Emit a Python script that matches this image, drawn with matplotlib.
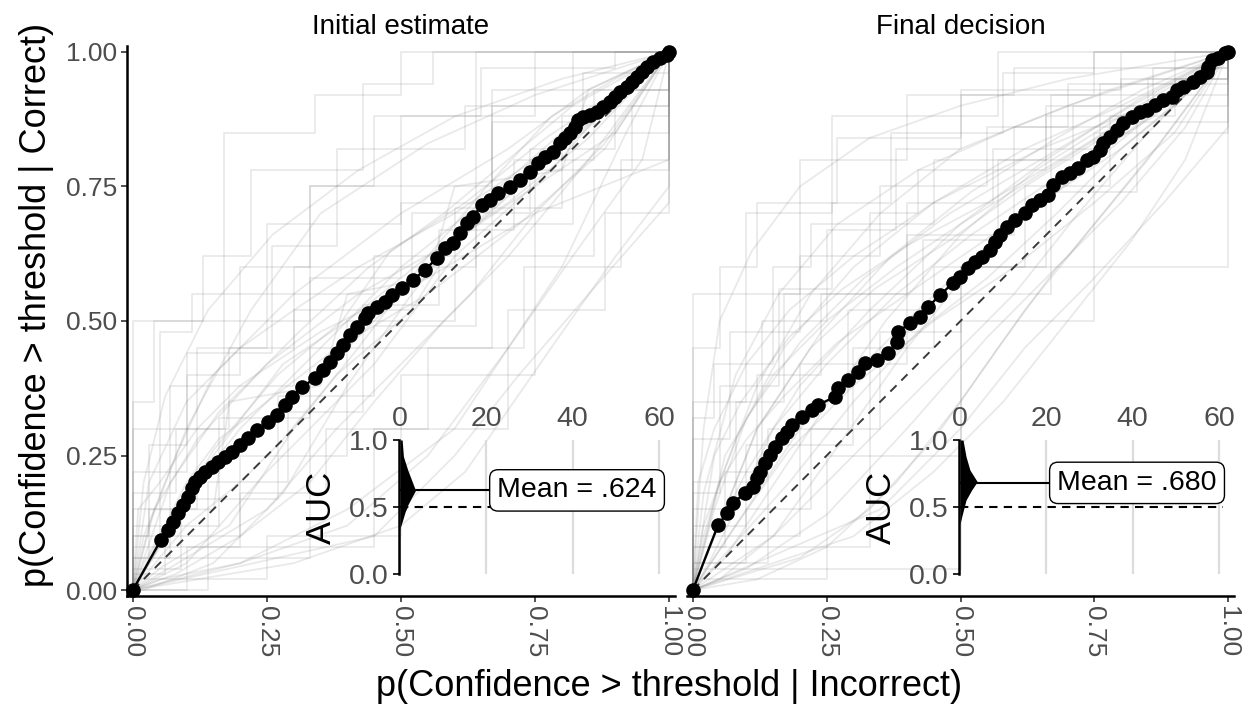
import matplotlib
matplotlib.use('Agg')
import matplotlib.pyplot as plt

plt.rcParams['font.family'] = ['Liberation Sans', 'DejaVu Sans']

# ---------------- data ----------------
panel_titles = ['Initial estimate', 'Final decision']
x_title = 'p(Confidence > threshold | Incorrect)'
y_title = 'p(Confidence > threshold | Correct)'
main_ticks = [0.0, 0.25, 0.5, 0.75, 1.0]
main_tick_labels = ['0.00', '0.25', '0.50', '0.75', '1.00']
inset_x_ticks = [0, 20, 40, 60]
inset_y_ticks = [0.0, 0.5, 1.0]
inset_y_labels = ['0.0', '0.5', '1.0']
mean_auc = [0.624, 0.680]
mean_labels = ['Mean = .624', 'Mean = .680']
chance_auc = 0.5
label_pos = 41

initial_mean_x = [0.0, 0.052, 0.065, 0.075, 0.084, 0.093, 0.103, 0.110, 0.116, 0.125, 0.134,
                  0.147, 0.159, 0.172, 0.185, 0.200, 0.215, 0.231, 0.252, 0.269, 0.284, 0.297,
                  0.315, 0.340, 0.354, 0.367, 0.381, 0.392, 0.405, 0.418, 0.433, 0.438, 0.455,
                  0.470, 0.483, 0.502, 0.522, 0.545, 0.567, 0.582, 0.597, 0.610, 0.623, 0.634,
                  0.651, 0.666, 0.681, 0.703, 0.722, 0.741, 0.756, 0.769, 0.784, 0.797, 0.806,
                  0.815, 0.825, 0.830, 0.840, 0.853, 0.866, 0.877, 0.890, 0.899, 0.909, 0.922,
                  0.931, 0.940, 0.950, 0.959, 0.970, 0.983, 0.996, 1.0]
initial_mean_y = [0.0, 0.093, 0.112, 0.126, 0.143, 0.158, 0.173, 0.190, 0.201, 0.210, 0.219,
                  0.229, 0.238, 0.247, 0.257, 0.270, 0.282, 0.297, 0.312, 0.325, 0.344, 0.359,
                  0.377, 0.394, 0.409, 0.424, 0.440, 0.455, 0.474, 0.489, 0.506, 0.515, 0.526,
                  0.535, 0.548, 0.561, 0.576, 0.595, 0.617, 0.636, 0.645, 0.664, 0.682, 0.693,
                  0.716, 0.725, 0.738, 0.749, 0.762, 0.777, 0.794, 0.805, 0.814, 0.831, 0.840,
                  0.849, 0.861, 0.874, 0.879, 0.883, 0.889, 0.898, 0.907, 0.916, 0.926, 0.935,
                  0.944, 0.953, 0.963, 0.972, 0.981, 0.989, 0.994, 1.0]

final_mean_x = [0.0, 0.047, 0.064, 0.075, 0.097, 0.112, 0.120, 0.125, 0.135, 0.144, 0.153,
                0.166, 0.176, 0.185, 0.204, 0.222, 0.234, 0.265, 0.271, 0.290, 0.308, 0.321,
                0.344, 0.364, 0.381, 0.383, 0.406, 0.424, 0.439, 0.462, 0.486, 0.499, 0.514,
                0.527, 0.540, 0.555, 0.564, 0.574, 0.587, 0.602, 0.621, 0.634, 0.649, 0.664,
                0.673, 0.690, 0.705, 0.720, 0.736, 0.748, 0.761, 0.766, 0.779, 0.792, 0.804,
                0.821, 0.836, 0.849, 0.864, 0.879, 0.895, 0.905, 0.916, 0.935, 0.948, 0.961,
                0.963, 0.970, 0.981, 0.994, 1.0]
final_mean_y = [0.0, 0.121, 0.143, 0.162, 0.180, 0.191, 0.208, 0.219, 0.236, 0.251, 0.266,
                0.283, 0.294, 0.307, 0.322, 0.335, 0.344, 0.359, 0.375, 0.390, 0.405, 0.422,
                0.428, 0.440, 0.461, 0.480, 0.496, 0.507, 0.526, 0.548, 0.571, 0.582, 0.599,
                0.610, 0.619, 0.632, 0.647, 0.660, 0.675, 0.688, 0.701, 0.716, 0.725, 0.734,
                0.753, 0.768, 0.775, 0.784, 0.799, 0.805, 0.818, 0.831, 0.842, 0.855, 0.868,
                0.879, 0.888, 0.892, 0.901, 0.911, 0.916, 0.929, 0.935, 0.944, 0.953, 0.963,
                0.972, 0.985, 0.989, 0.998, 1.0]

# density of participant AUCs (half violin), width in inset x units
initial_density_auc = [0.33, 0.35, 0.40, 0.465, 0.50, 0.515, 0.577, 0.624, 0.70, 0.776, 0.876, 1.0]
initial_density_width = [0.0, 0.1, 0.6, 1.2, 1.7, 1.8, 2.8, 3.6, 2.7, 1.8, 0.8, 0.5]
final_density_auc = [0.37, 0.428, 0.49, 0.552, 0.627, 0.689, 0.776, 0.876, 1.0]
final_density_width = [0.0, 0.4, 0.9, 1.4, 2.7, 4.0, 2.3, 1.4, 0.7]

# individual participant ROC curves (x, y) pairs
initial_rocs = [
    [(0, 0), (0, 0.3), (0.17, 0.3), (0.17, 0.85), (0.34, 0.85), (0.34, 0.92), (0.5, 0.92), (0.5, 1), (1, 1)],
    [(0, 0), (0, 0.06), (0.07, 0.06), (0.07, 0.38), (0.3, 0.38), (0.3, 0.6), (0.64, 0.6), (0.64, 1), (1, 1)],
    [(0, 0), (0.1, 0.05), (0.25, 0.22), (0.45, 0.42), (0.6, 0.62), (0.78, 0.78), (0.9, 0.92), (1, 1)],
    [(0, 0), (0, 0.15), (0.12, 0.15), (0.12, 0.45), (0.25, 0.45), (0.25, 0.68), (0.5, 0.68), (0.5, 0.88), (0.75, 0.88), (0.75, 1), (1, 1)],
    [(0, 0), (0.05, 0.02), (0.2, 0.05), (0.4, 0.15), (0.6, 0.3), (0.8, 0.6), (0.92, 0.85), (1, 1)],
    [(0, 0), (0.02, 0.1), (0.08, 0.25), (0.15, 0.4), (0.3, 0.55), (0.5, 0.7), (0.7, 0.82), (0.85, 0.93), (1, 1)],
    [(0, 0), (0, 0.08), (0.2, 0.08), (0.2, 0.25), (0.4, 0.25), (0.4, 0.5), (0.6, 0.5), (0.6, 0.71), (0.8, 0.71), (0.8, 0.88), (1, 0.88), (1, 1)],
    [(0, 0), (0.03, 0.12), (0.1, 0.3), (0.22, 0.52), (0.35, 0.7), (0.55, 0.83), (0.75, 0.92), (1, 1)],
    [(0, 0), (0.14, 0), (0.14, 0.2), (0.29, 0.2), (0.29, 0.33), (0.43, 0.33), (0.43, 0.53), (0.57, 0.53), (0.57, 0.67), (0.71, 0.67), (0.71, 0.8), (0.86, 0.8), (0.86, 0.93), (1, 0.93), (1, 1)],
    [(0, 0), (0.3, 0.05), (0.5, 0.12), (0.62, 0.22), (0.78, 0.45), (0.9, 0.62), (1, 0.75), (1, 1)],
    [(0, 0), (0, 0.02), (0.25, 0.02), (0.25, 0.1), (0.5, 0.1), (0.5, 0.4), (0.75, 0.4), (0.75, 0.78), (1, 0.78), (1, 1)],
    [(0, 0), (0.05, 0.08), (0.12, 0.2), (0.2, 0.3), (0.35, 0.45), (0.5, 0.6), (0.65, 0.72), (0.8, 0.85), (0.93, 0.95), (1, 1)],
    [(0, 0), (0, 0.22), (0.1, 0.22), (0.1, 0.4), (0.2, 0.4), (0.2, 0.6), (0.33, 0.6), (0.33, 0.75), (0.45, 0.75), (0.45, 0.88), (0.65, 0.88), (0.65, 0.97), (0.9, 0.97), (0.9, 1), (1, 1)],
    [(0, 0), (0.08, 0.03), (0.2, 0.1), (0.33, 0.2), (0.45, 0.35), (0.58, 0.5), (0.7, 0.62), (0.85, 0.8), (1, 1)],
    [(0, 0), (0.03, 0.05), (0.03, 0.15), (0.15, 0.15), (0.18, 0.35), (0.35, 0.38), (0.4, 0.55), (0.55, 0.58), (0.6, 0.75), (0.8, 0.78), (0.85, 0.93), (1, 1)],
    [(0, 0), (0, 0.1), (0.05, 0.1), (0.05, 0.48), (0.11, 0.48), (0.11, 0.55), (0.45, 0.55), (0.45, 0.62), (0.86, 0.62), (0.86, 0.78), (0.93, 0.78), (0.93, 0.9), (1, 0.9), (1, 1)],
    [(0, 0), (0.02, 0.0), (0.15, 0.05), (0.28, 0.18), (0.4, 0.38), (0.52, 0.55), (0.64, 0.7), (0.76, 0.8), (0.88, 0.9), (1, 1)],
    [(0, 0), (0.1, 0.12), (0.2, 0.2), (0.28, 0.28), (0.38, 0.4), (0.52, 0.52), (0.6, 0.65), (0.72, 0.75), (0.85, 0.86), (1, 1)],
    [(0, 0), (0, 0.06), (0.33, 0.06), (0.33, 0.45), (0.67, 0.45), (0.67, 0.9), (1, 0.9), (1, 1)],
    [(0, 0), (0.04, 0.15), (0.12, 0.28), (0.25, 0.42), (0.42, 0.55), (0.6, 0.65), (0.75, 0.75), (0.9, 0.85), (1, 1)],
    [(0, 0), (0.2, 0.05), (0.4, 0.12), (0.55, 0.25), (0.7, 0.45), (0.82, 0.62), (0.95, 0.8), (1, 1)],
    [(0, 0), (0, 0.12), (0.16, 0.12), (0.16, 0.32), (0.33, 0.32), (0.33, 0.58), (0.5, 0.58), (0.5, 0.72), (0.67, 0.72), (0.67, 0.87), (0.84, 0.87), (0.84, 0.96), (1, 0.96), (1, 1)],
    [(0, 0), (0.06, 0.1), (0.15, 0.26), (0.27, 0.4), (0.39, 0.5), (0.48, 0.63), (0.62, 0.72), (0.77, 0.84), (0.89, 0.92), (1, 1)],
    [(0, 0), (0.02, 0.2), (0.06, 0.36), (0.14, 0.52), (0.26, 0.66), (0.42, 0.78), (0.6, 0.88), (0.8, 0.95), (1, 1)],
    [(0, 0), (0.1, 0), (0.1, 0.08), (0.45, 0.08), (0.45, 0.3), (0.7, 0.3), (0.7, 0.52), (0.88, 0.52), (0.88, 0.7), (1, 0.7), (1, 1)],
    [(0, 0), (0.05, 0.04), (0.18, 0.12), (0.3, 0.3), (0.42, 0.45), (0.55, 0.62), (0.66, 0.75), (0.78, 0.88), (0.9, 0.95), (1, 1)],
    [(0, 0), (0, 0.04), (0.09, 0.04), (0.09, 0.17), (0.27, 0.17), (0.27, 0.36), (0.45, 0.36), (0.45, 0.49), (0.64, 0.49), (0.64, 0.68), (0.82, 0.68), (0.82, 0.85), (1, 0.85), (1, 1)],
    [(0, 0), (0.07, 0.2), (0.16, 0.33), (0.31, 0.48), (0.44, 0.6), (0.58, 0.7), (0.7, 0.8), (0.82, 0.9), (1, 1)],
    [(0, 0), (0.25, 0.15), (0.38, 0.3), (0.5, 0.42), (0.63, 0.55), (0.75, 0.7), (0.88, 0.83), (1, 1)],
    [(0, 0), (0, 0.35), (0.04, 0.35), (0.04, 0.5), (0.13, 0.5), (0.13, 0.62), (0.22, 0.62), (0.22, 0.78), (0.43, 0.78), (0.43, 0.94), (0.56, 0.94), (0.56, 1), (1, 1)],
    [(0, 0), (0.01, 0.15), (0.05, 0.2), (0.12, 0.3), (0.2, 0.38), (0.35, 0.48), (0.55, 0.58), (0.75, 0.7), (1, 0.8), (1, 1)],
    [(0, 0), (0, 0.5), (0.33, 0.5), (0.33, 0.75), (0.67, 0.75), (0.67, 0.93), (1, 0.93), (1, 1)],
    [(0, 0), (0.04, 0.08), (0.1, 0.18), (0.18, 0.25), (0.3, 0.35), (0.45, 0.5), (0.62, 0.66), (0.8, 0.82), (1, 1)],
    [(0, 0), (0, 0.03), (0.06, 0.03), (0.06, 0.1), (0.2, 0.1), (0.2, 0.18), (0.36, 0.18), (0.36, 0.3), (0.55, 0.3), (0.55, 0.45), (0.73, 0.45), (0.73, 0.6), (0.91, 0.6), (0.91, 0.8), (1, 0.8), (1, 1)],
    [(0, 0), (0.15, 0.25), (0.28, 0.42), (0.4, 0.5), (0.55, 0.62), (0.7, 0.72), (0.85, 0.84), (1, 1)],
    [(0, 0), (0.02, 0.05), (0.06, 0.12), (0.1, 0.2), (0.16, 0.28), (0.25, 0.35), (0.38, 0.45), (0.55, 0.55), (0.72, 0.68), (0.88, 0.82), (1, 1)],
    [(0, 0), (0, 0.18), (0.08, 0.18), (0.08, 0.3), (0.18, 0.3), (0.18, 0.45), (0.3, 0.45), (0.3, 0.52), (0.52, 0.52), (0.52, 0.7), (0.74, 0.7), (0.74, 0.82), (0.9, 0.82), (0.9, 0.93), (1, 0.93), (1, 1)],
    [(0, 0), (0.45, 0.1), (0.6, 0.25), (0.72, 0.4), (0.85, 0.55), (1, 0.72), (1, 1)],
    [(0, 0), (0.03, 0.2), (0.1, 0.35), (0.2, 0.45), (0.3, 0.52), (0.42, 0.6), (0.6, 0.7), (0.78, 0.82), (0.9, 0.9), (1, 1)],
    [(0, 0), (0, 0.1), (0.03, 0.1), (0.03, 0.27), (0.1, 0.27), (0.1, 0.44), (0.26, 0.44), (0.26, 0.64), (0.38, 0.64), (0.38, 0.82), (0.62, 0.82), (0.62, 0.9), (0.82, 0.9), (0.82, 1), (1, 1)],
]

final_rocs = [
    [(0, 0), (0, 0.35), (0.1, 0.35), (0.1, 0.7), (0.26, 0.7), (0.26, 0.88), (0.57, 0.88), (0.57, 1), (1, 1)],
    [(0, 0), (0.05, 0.2), (0.12, 0.38), (0.22, 0.55), (0.35, 0.7), (0.5, 0.82), (0.7, 0.9), (0.88, 0.96), (1, 1)],
    [(0, 0), (0, 0.1), (0.2, 0.1), (0.2, 0.42), (0.4, 0.42), (0.4, 0.66), (0.6, 0.66), (0.6, 0.86), (0.8, 0.86), (0.8, 0.95), (1, 0.95), (1, 1)],
    [(0, 0), (0.02, 0.12), (0.08, 0.28), (0.17, 0.45), (0.3, 0.6), (0.45, 0.72), (0.62, 0.82), (0.8, 0.9), (1, 1)],
    [(0, 0), (0.1, 0.04), (0.25, 0.14), (0.4, 0.3), (0.55, 0.47), (0.7, 0.62), (0.85, 0.8), (1, 1)],
    [(0, 0), (0, 0.2), (0.13, 0.2), (0.13, 0.5), (0.25, 0.5), (0.25, 0.67), (0.38, 0.67), (0.38, 0.82), (0.5, 0.82), (0.5, 0.92), (0.75, 0.92), (0.75, 1), (1, 1)],
    [(0, 0), (0.04, 0.15), (0.1, 0.32), (0.2, 0.46), (0.32, 0.58), (0.48, 0.7), (0.65, 0.8), (0.82, 0.9), (1, 1)],
    [(0, 0), (0, 0.05), (0.14, 0.05), (0.14, 0.3), (0.29, 0.3), (0.29, 0.52), (0.43, 0.52), (0.43, 0.65), (0.57, 0.65), (0.57, 0.8), (0.71, 0.8), (0.71, 0.9), (0.86, 0.9), (0.86, 0.97), (1, 0.97), (1, 1)],
    [(0, 0), (0.15, 0.1), (0.3, 0.25), (0.45, 0.4), (0.6, 0.55), (0.72, 0.7), (0.85, 0.85), (1, 1)],
    [(0, 0), (0, 0.45), (0.05, 0.45), (0.05, 0.6), (0.12, 0.6), (0.12, 0.72), (0.27, 0.72), (0.27, 0.84), (0.5, 0.84), (0.5, 0.93), (0.8, 0.93), (0.8, 1), (1, 1)],
    [(0, 0), (0.03, 0.08), (0.1, 0.22), (0.2, 0.38), (0.33, 0.52), (0.5, 0.68), (0.66, 0.8), (0.83, 0.91), (1, 1)],
    [(0, 0), (0, 0.02), (0.25, 0.02), (0.25, 0.25), (0.5, 0.25), (0.5, 0.5), (0.75, 0.5), (0.75, 0.85), (1, 0.85), (1, 1)],
    [(0, 0), (0.06, 0.25), (0.15, 0.4), (0.25, 0.5), (0.38, 0.6), (0.5, 0.68), (0.66, 0.78), (0.82, 0.88), (1, 1)],
    [(0, 0), (0.2, 0.06), (0.33, 0.15), (0.45, 0.28), (0.57, 0.45), (0.68, 0.6), (0.8, 0.72), (0.92, 0.86), (1, 1)],
    [(0, 0), (0, 0.15), (0.08, 0.15), (0.08, 0.35), (0.17, 0.35), (0.17, 0.55), (0.33, 0.55), (0.33, 0.7), (0.42, 0.7), (0.42, 0.78), (0.66, 0.78), (0.66, 0.9), (1, 0.9), (1, 1)],
    [(0, 0), (0.02, 0.18), (0.08, 0.4), (0.16, 0.55), (0.27, 0.68), (0.42, 0.78), (0.6, 0.86), (0.78, 0.93), (1, 1)],
    [(0, 0), (0.1, 0.15), (0.2, 0.3), (0.3, 0.4), (0.42, 0.52), (0.55, 0.64), (0.68, 0.74), (0.83, 0.86), (1, 1)],
    [(0, 0), (0, 0.08), (0.33, 0.08), (0.33, 0.55), (0.67, 0.55), (0.67, 0.92), (1, 0.92), (1, 1)],
    [(0, 0), (0.05, 0.02), (0.15, 0.1), (0.28, 0.28), (0.4, 0.45), (0.52, 0.6), (0.65, 0.72), (0.8, 0.82), (0.92, 0.92), (1, 1)],
    [(0, 0), (0.3, 0.1), (0.45, 0.22), (0.58, 0.35), (0.7, 0.5), (0.82, 0.65), (0.92, 0.8), (1, 1)],
    [(0, 0), (0, 0.28), (0.07, 0.28), (0.07, 0.48), (0.2, 0.48), (0.2, 0.62), (0.35, 0.62), (0.35, 0.75), (0.55, 0.75), (0.55, 0.86), (0.7, 0.86), (0.7, 0.94), (0.9, 0.94), (0.9, 1), (1, 1)],
    [(0, 0), (0.04, 0.1), (0.12, 0.3), (0.24, 0.48), (0.37, 0.62), (0.52, 0.74), (0.68, 0.84), (0.84, 0.93), (1, 1)],
    [(0, 0), (0.12, 0.02), (0.25, 0.08), (0.38, 0.2), (0.5, 0.35), (0.62, 0.52), (0.75, 0.68), (0.88, 0.84), (1, 1)],
    [(0, 0), (0, 0.12), (0.1, 0.12), (0.1, 0.27), (0.3, 0.27), (0.3, 0.45), (0.45, 0.45), (0.45, 0.6), (0.62, 0.6), (0.62, 0.75), (0.78, 0.75), (0.78, 0.88), (0.9, 0.88), (0.9, 0.95), (1, 0.95), (1, 1)],
    [(0, 0), (0.08, 0.12), (0.18, 0.26), (0.3, 0.38), (0.45, 0.5), (0.6, 0.6), (0.75, 0.72), (0.9, 0.85), (1, 1)],
    [(0, 0), (0.02, 0.3), (0.05, 0.5), (0.11, 0.63), (0.2, 0.75), (0.33, 0.84), (0.5, 0.9), (0.7, 0.95), (1, 1)],
    [(0, 0), (0, 0.04), (0.5, 0.04), (0.5, 0.6), (1, 0.6), (1, 1)],
    [(0, 0), (0.06, 0.06), (0.14, 0.18), (0.24, 0.33), (0.36, 0.5), (0.5, 0.66), (0.64, 0.78), (0.8, 0.88), (1, 1)],
    [(0, 0), (0.18, 0.2), (0.3, 0.35), (0.42, 0.48), (0.55, 0.58), (0.68, 0.7), (0.8, 0.82), (0.9, 0.9), (1, 1)],
    [(0, 0), (0, 0.18), (0.05, 0.18), (0.05, 0.38), (0.16, 0.38), (0.16, 0.56), (0.26, 0.56), (0.26, 0.72), (0.37, 0.72), (0.37, 0.85), (0.58, 0.85), (0.58, 0.96), (0.75, 0.96), (0.75, 1), (1, 1)],
    [(0, 0), (0.01, 0.2), (0.04, 0.3), (0.1, 0.42), (0.18, 0.52), (0.3, 0.62), (0.45, 0.72), (0.65, 0.82), (0.85, 0.9), (1, 1)],
    [(0, 0), (0, 0.55), (0.2, 0.55), (0.2, 0.8), (0.4, 0.8), (0.4, 0.92), (0.6, 0.92), (0.6, 0.97), (1, 0.97), (1, 1)],
    [(0, 0), (0.03, 0.05), (0.08, 0.15), (0.15, 0.3), (0.25, 0.42), (0.38, 0.55), (0.52, 0.66), (0.7, 0.78), (0.86, 0.88), (1, 1)],
    [(0, 0), (0, 0.05), (0.1, 0.05), (0.1, 0.15), (0.22, 0.15), (0.22, 0.3), (0.35, 0.3), (0.35, 0.48), (0.5, 0.48), (0.5, 0.6), (0.66, 0.6), (0.66, 0.74), (0.83, 0.74), (0.83, 0.87), (1, 0.87), (1, 1)],
    [(0, 0), (0.12, 0.3), (0.22, 0.45), (0.34, 0.56), (0.48, 0.65), (0.62, 0.75), (0.78, 0.85), (1, 1)],
    [(0, 0), (0.02, 0.1), (0.05, 0.2), (0.1, 0.28), (0.17, 0.36), (0.27, 0.46), (0.4, 0.55), (0.56, 0.66), (0.74, 0.8), (0.88, 0.9), (1, 1)],
    [(0, 0), (0, 0.32), (0.04, 0.32), (0.04, 0.42), (0.15, 0.42), (0.15, 0.6), (0.22, 0.6), (0.22, 0.68), (0.45, 0.68), (0.45, 0.8), (0.66, 0.8), (0.66, 0.88), (0.85, 0.88), (0.85, 0.95), (1, 0.95), (1, 1)],
    [(0, 0), (0.35, 0.15), (0.5, 0.3), (0.62, 0.45), (0.75, 0.58), (0.88, 0.72), (1, 0.86), (1, 1)],
    [(0, 0), (0.04, 0.25), (0.09, 0.35), (0.18, 0.47), (0.28, 0.56), (0.4, 0.64), (0.55, 0.72), (0.72, 0.82), (0.88, 0.92), (1, 1)],
    [(0, 0), (0, 0.08), (0.06, 0.08), (0.06, 0.22), (0.12, 0.22), (0.12, 0.4), (0.24, 0.4), (0.24, 0.55), (0.4, 0.55), (0.4, 0.72), (0.56, 0.72), (0.56, 0.82), (0.76, 0.82), (0.76, 0.94), (1, 0.94), (1, 1)],
]

# ---------------- layout ----------------
W, H = 1254, 709
fig = plt.figure(figsize=(W / 100, H / 100), dpi=100)

def px_rect(left, top, right, bottom):
    return [left / W, 1 - bottom / H, (right - left) / W, (bottom - top) / H]

main_rects = [px_rect(127, 46, 675, 596), px_rect(687, 46, 1234, 596)]
inset_rects = [px_rect(398.7, 440, 667.7, 574), px_rect(958.7, 440, 1227.7, 574)]

panels = [
    (initial_rocs, initial_mean_x, initial_mean_y, initial_density_auc, initial_density_width),
    (final_rocs, final_mean_x, final_mean_y, final_density_auc, final_density_width),
]

TICK_COLOR = '#4d4d4d'
MAIN_TICK_FS = 19
INSET_FS = 20.5
for i, (rocs, mx, my, dens_auc, dens_w) in enumerate(panels):
    ax = fig.add_axes(main_rects[i])
    ax.set_xlim(-0.011, 1.011)
    ax.set_ylim(-0.011, 1.011)
    for roc in rocs:
        xs = [p[0] for p in roc]
        ys = [p[1] for p in roc]
        ax.plot(xs, ys, color='#808080', alpha=0.17, lw=1.3, zorder=1, clip_on=False)
    ax.plot([0, 1], [0, 1], color='#3a3a3a', ls='--', dashes=(4.5, 3.5), lw=1.4, zorder=2)
    ax.plot(mx, my, color='black', lw=1.7, marker='o', ms=9.5, zorder=3, clip_on=False)

    for s in ['top', 'right']:
        ax.spines[s].set_visible(False)
    ax.spines['bottom'].set_linewidth(1.8)
    ax.spines['left'].set_linewidth(1.8)
    ax.set_xticks(main_ticks)
    ax.set_xticklabels(main_tick_labels, rotation=270, va='top', ha='center')
    ax.tick_params(axis='x', length=4, width=1.2, color='#333333', labelsize=MAIN_TICK_FS,
                   labelcolor=TICK_COLOR, pad=3)
    if i == 0:
        ax.set_yticks(main_ticks)
        ax.set_yticklabels(main_tick_labels)
        ax.tick_params(axis='y', length=4, width=1.2, color='#333333', labelsize=MAIN_TICK_FS,
                       labelcolor=TICK_COLOR, pad=3)
    else:
        ax.spines['left'].set_visible(False)
        ax.set_yticks([])
    ax.patch.set_visible(False)
    ax.set_title(panel_titles[i], fontsize=20, pad=9)

    # inset: AUC distribution
    ai = fig.add_axes(inset_rects[i])
    ai.patch.set_visible(False)
    ai.set_xlim(-0.3, 62)
    ai.set_ylim(0, 1)
    for s in ['top', 'right', 'bottom']:
        ai.spines[s].set_visible(False)
    ai.spines['left'].set_linewidth(1.8)
    ai.xaxis.tick_top()
    ai.set_xticks(inset_x_ticks)
    ai.tick_params(axis='x', length=0, labelsize=INSET_FS, labelcolor=TICK_COLOR, pad=6)
    ai.set_yticks(inset_y_ticks)
    ai.set_yticklabels(inset_y_labels)
    ai.tick_params(axis='y', length=4, width=1.2, labelsize=INSET_FS, labelcolor=TICK_COLOR, pad=3)
    ai.grid(axis='x', color='#dcdcdc', lw=1.6)
    ai.set_axisbelow(True)
    ai.set_ylabel('AUC', fontsize=25, labelpad=8)
    ai.fill_betweenx(dens_auc, 0, dens_w, color='black', lw=0, zorder=3)
    ai.plot([0, 61], [chance_auc, chance_auc], color='black', ls='--', dashes=(4, 3), lw=1.5, zorder=2)
    ai.plot([0, label_pos], [mean_auc[i], mean_auc[i]], color='black', lw=1.5, zorder=2)
    ai.text(label_pos, mean_auc[i], mean_labels[i], fontsize=INSET_FS, ha='center', va='center',
            zorder=5, bbox=dict(boxstyle='round,pad=0.27,rounding_size=0.3', fc='white',
                                ec='black', lw=1.0))

fig.text(669 / W, 1 - 687 / H, x_title, ha='center', va='center', fontsize=26)
fig.text(37 / W, 1 - 305 / H, y_title, ha='center', va='center', rotation=90, fontsize=26)

fig.savefig('out.png', dpi=100)
